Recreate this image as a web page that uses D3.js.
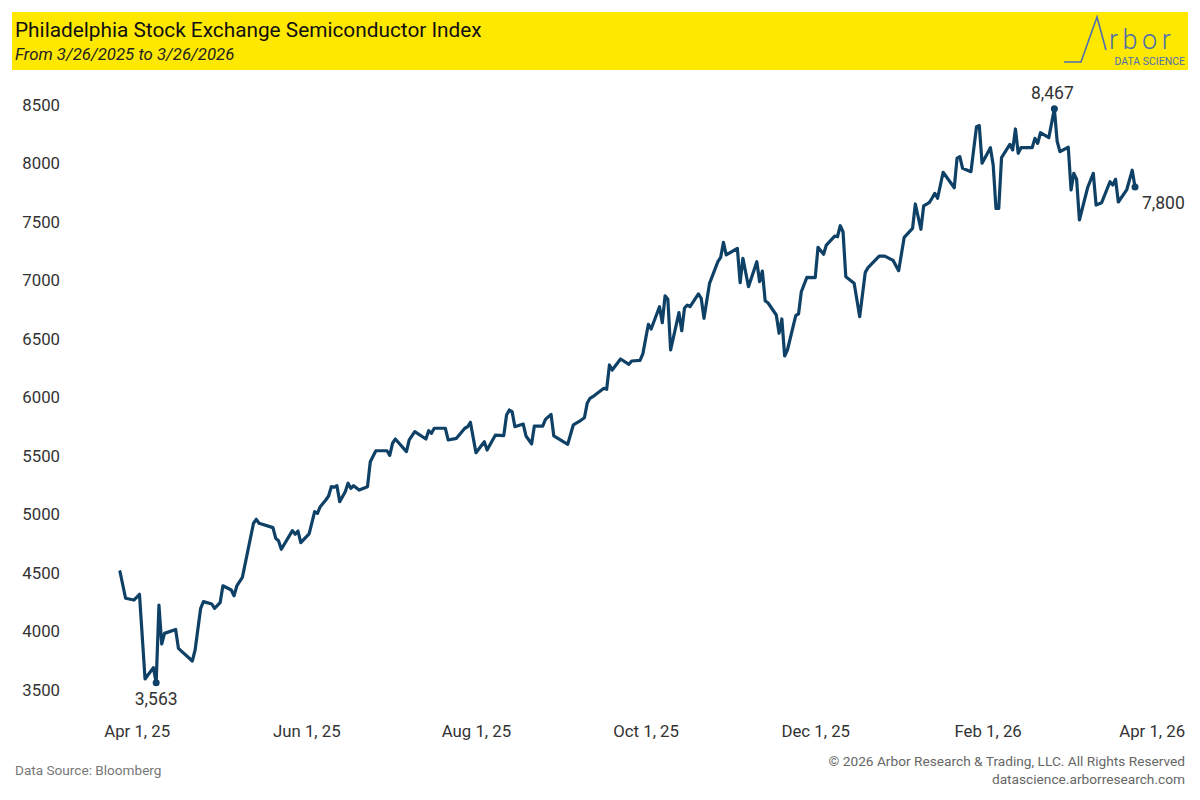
<!DOCTYPE html>
<html>
<head>
<meta charset="utf-8">
<script src="https://cdn.jsdelivr.net/npm/d3@7"></script>
<style>
  body { margin: 0; background: #fff; }
  svg { display: block; }
</style>
</head>
<body>
<svg id="chart" width="1200" height="800"></svg>
<script>
// SOX index
const dates = [
  '2025-03-26', '2025-03-28', '2025-03-31', '2025-04-02', '2025-04-04', '2025-04-07', '2025-04-08', '2025-04-09', '2025-04-10', '2025-04-11',
  '2025-04-15', '2025-04-16', '2025-04-21', '2025-04-22', '2025-04-24', '2025-04-25', '2025-04-28', '2025-04-29', '2025-05-01', '2025-05-02',
  '2025-05-05', '2025-05-06', '2025-05-07', '2025-05-09', '2025-05-13', '2025-05-14', '2025-05-15', '2025-05-20', '2025-05-21', '2025-05-22',
  '2025-05-23', '2025-05-27', '2025-05-28', '2025-05-29', '2025-05-30', '2025-06-02', '2025-06-04', '2025-06-05', '2025-06-06', '2025-06-08',
  '2025-06-09', '2025-06-10', '2025-06-11', '2025-06-12', '2025-06-13', '2025-06-15', '2025-06-16', '2025-06-17', '2025-06-18', '2025-06-20',
  '2025-06-23', '2025-06-24', '2025-06-26', '2025-06-30', '2025-07-01', '2025-07-02', '2025-07-03', '2025-07-07', '2025-07-08', '2025-07-10',
  '2025-07-14', '2025-07-15', '2025-07-16', '2025-07-17', '2025-07-21', '2025-07-22', '2025-07-25', '2025-07-28', '2025-07-29', '2025-07-30',
  '2025-08-01', '2025-08-04', '2025-08-05', '2025-08-08', '2025-08-11', '2025-08-12', '2025-08-13', '2025-08-14', '2025-08-15', '2025-08-18',
  '2025-08-19', '2025-08-21', '2025-08-22', '2025-08-25', '2025-08-26', '2025-08-28', '2025-08-29', '2025-09-03', '2025-09-05', '2025-09-07',
  '2025-09-09', '2025-09-10', '2025-09-11', '2025-09-12', '2025-09-16', '2025-09-17', '2025-09-18', '2025-09-19', '2025-09-22', '2025-09-25',
  '2025-09-26', '2025-09-29', '2025-09-30', '2025-10-02', '2025-10-03', '2025-10-06', '2025-10-07', '2025-10-08', '2025-10-09', '2025-10-10',
  '2025-10-13', '2025-10-14', '2025-10-15', '2025-10-16', '2025-10-17', '2025-10-20', '2025-10-21', '2025-10-22', '2025-10-24', '2025-10-27',
  '2025-10-28', '2025-10-29', '2025-10-30', '2025-11-03', '2025-11-04', '2025-11-05', '2025-11-07', '2025-11-10', '2025-11-11', '2025-11-12',
  '2025-11-13', '2025-11-14', '2025-11-17', '2025-11-18', '2025-11-19', '2025-11-20', '2025-11-21', '2025-11-24', '2025-11-25', '2025-11-26',
  '2025-11-28', '2025-12-01', '2025-12-02', '2025-12-04', '2025-12-05', '2025-12-08', '2025-12-09', '2025-12-10', '2025-12-11', '2025-12-12',
  '2025-12-15', '2025-12-17', '2025-12-19', '2025-12-20', '2025-12-24', '2025-12-26', '2025-12-29', '2025-12-31', '2026-01-02', '2026-01-05',
  '2026-01-06', '2026-01-08', '2026-01-09', '2026-01-11', '2026-01-12', '2026-01-13', '2026-01-14', '2026-01-16', '2026-01-20', '2026-01-21',
  '2026-01-22', '2026-01-23', '2026-01-26', '2026-01-28', '2026-01-29', '2026-01-30', '2026-02-02', '2026-02-03', '2026-02-04', '2026-02-05',
  '2026-02-06', '2026-02-09', '2026-02-10', '2026-02-11', '2026-02-12', '2026-02-13', '2026-02-17', '2026-02-18', '2026-02-19', '2026-02-20',
  '2026-02-23', '2026-02-25', '2026-02-26', '2026-02-27', '2026-03-02', '2026-03-03', '2026-03-04', '2026-03-05', '2026-03-06', '2026-03-09',
  '2026-03-11', '2026-03-12', '2026-03-14', '2026-03-17', '2026-03-18', '2026-03-19', '2026-03-20', '2026-03-23', '2026-03-25', '2026-03-26',
];

const values = [
  4511, 4284, 4269, 4318, 3594, 3691, 3563, 4226, 3893, 3984,
  4018, 3856, 3748, 3842, 4198, 4255, 4235, 4198, 4246, 4391,
  4355, 4306, 4389, 4463, 4925, 4959, 4925, 4888, 4796, 4776,
  4703, 4862, 4831, 4859, 4759, 4835, 5024, 5010, 5067, 5124,
  5158, 5238, 5233, 5246, 5110, 5195, 5267, 5224, 5246, 5209,
  5238, 5451, 5545, 5545, 5506, 5609, 5645, 5537, 5637, 5708,
  5645, 5716, 5694, 5737, 5737, 5637, 5651, 5737, 5750, 5788,
  5528, 5622, 5551, 5679, 5674, 5850, 5893, 5879, 5750, 5773,
  5671, 5603, 5756, 5756, 5813, 5856, 5671, 5600, 5765, 5793,
  5827, 5950, 5993, 6007, 6079, 6070, 6278, 6235, 6329, 6284,
  6312, 6318, 6372, 6626, 6585, 6776, 6639, 6868, 6842, 6406,
  6725, 6571, 6765, 6790, 6776, 6885, 6848, 6677, 6976, 7161,
  7198, 7326, 7218, 7275, 6981, 7190, 6947, 7161, 6990, 7081,
  6825, 6810, 6705, 6549, 6671, 6355, 6406, 6699, 6714, 6904,
  7027, 7024, 7284, 7224, 7303, 7380, 7374, 7468, 7417, 7032,
  6976, 6691, 7070, 7110, 7209, 7209, 7172, 7084, 7369, 7446,
  7654, 7438, 7637, 7665, 7703, 7745, 7703, 7925, 7793, 8044,
  8059, 7959, 7930, 8315, 8324, 8002, 8135, 7987, 7617, 7617,
  8050, 8164, 8116, 8295, 8087, 8135, 8135, 8215, 8172, 8263,
  8221, 8467, 8190, 8101, 8139, 7774, 7916, 7865, 7517, 7797,
  7916, 7645, 7665, 7844, 7816, 7865, 7671, 7774, 7943, 7800,
];

const yTicks = [3500, 4000, 4500, 5000, 5500, 6000, 6500, 7000, 7500, 8000, 8500];
const xTicks = ['2025-04-01', '2025-06-01', '2025-08-01', '2025-10-01', '2025-12-01', '2026-02-01', '2026-04-01'];

const title = 'Philadelphia Stock Exchange Semiconductor Index';
const subtitle = 'From 3/26/2025 to 3/26/2026';

const parse = d3.timeParse('%Y-%m-%d');
const data = dates.map((d, i) => ({ date: parse(d), value: values[i] }));

const svg = d3.select('#chart');
const font = 'Roboto, "Liberation Sans", sans-serif';
const lineColor = '#0f4166';

// header band
svg.append('rect')
    .attr('x', 12).attr('y', 12)
    .attr('width', 1176).attr('height', 58)
    .attr('fill', '#ffe800');

svg.append('text')
    .attr('x', 15).attr('y', 37)
    .style('font', `20.8px ${font}`)
    .attr('fill', '#111')
    .text(title);

svg.append('text')
    .attr('x', 15).attr('y', 60)
    .style('font', `italic 16.8px ${font}`)
    .attr('fill', '#222')
    .text(subtitle);

// logo
const logo = svg.append('g');
logo.append('path')
    .attr('d', 'M1064,62 L1081,62 L1097,17 L1106,50')
    .attr('fill', 'none')
    .attr('stroke', '#4f6fae')
    .attr('stroke-width', 1.6);
logo.append('text')
    .attr('x', 1109).attr('y', 49)
    .style('font', `300 27px ${font}`)
    .style('letter-spacing', '4.5px')
    .attr('fill', '#4f6fae')
    .text('rbor');
logo.append('text')
    .attr('x', 1185).attr('y', 65)
    .attr('text-anchor', 'end')
    .style('font', `10.5px ${font}`)
    .attr('fill', '#4f6fae')
    .text('DATA SCIENCE');

// scales
const x = d3.scaleTime()
    .domain([parse('2025-04-01'), parse('2026-04-01')])
    .range([136.7, 1151.7]);

const y = d3.scaleLinear()
    .domain([3500, 8500])
    .range([690, 105]);

const yAxis = svg.append('g')
    .attr('transform', 'translate(63,0)')
    .call(d3.axisLeft(y).tickValues(yTicks).tickSize(0).tickPadding(3).tickFormat(d3.format('d')));

const xAxis = svg.append('g')
    .attr('transform', 'translate(0,721)')
    .call(d3.axisBottom(x).tickValues(xTicks.map(parse)).tickSize(0).tickPadding(4)
        .tickFormat(d3.timeFormat('%b %-d, %y')));

[yAxis, xAxis].forEach((g) => {
    g.select('.domain').remove();
    g.selectAll('text')
        .style('font', `16.8px ${font}`)
        .attr('fill', '#333');
});

// line
const line = d3.line()
    .x(d => x(d.date))
    .y(d => y(d.value));

svg.append('path')
    .datum(data)
    .attr('d', line)
    .attr('fill', 'none')
    .attr('stroke', lineColor)
    .attr('stroke-width', 3.2)
    .attr('stroke-linejoin', 'round')
    .attr('stroke-linecap', 'round');

// min, max and last points
const minPt = data[d3.minIndex(data, d => d.value)];
const maxPt = data[d3.maxIndex(data, d => d.value)];
const lastPt = data[data.length - 1];
const fmt = d3.format(',');

svg.selectAll('circle.mark')
    .data([minPt, maxPt, lastPt])
    .join('circle')
    .attr('class', 'mark')
    .attr('cx', d => x(d.date))
    .attr('cy', d => y(d.value))
    .attr('r', 3.5)
    .attr('fill', lineColor);

const labels = [
    { pt: minPt, dx: 0, dy: 22, anchor: 'middle' },
    { pt: maxPt, dx: -2, dy: -10, anchor: 'middle' },
    { pt: lastPt, dx: 7, dy: 22, anchor: 'start' },
];

svg.selectAll('text.mark-label')
    .data(labels)
    .join('text')
    .attr('class', 'mark-label')
    .attr('x', d => x(d.pt.date) + d.dx)
    .attr('y', d => y(d.pt.value) + d.dy)
    .attr('text-anchor', d => d.anchor)
    .style('font', `17.5px ${font}`)
    .attr('fill', '#333')
    .text(d => fmt(d.pt.value));

// footer
svg.append('text')
    .attr('x', 15).attr('y', 775)
    .style('font', `13.6px ${font}`)
    .attr('fill', '#777')
    .text('Data Source: Bloomberg');

svg.append('text')
    .attr('x', 1185).attr('y', 766)
    .attr('text-anchor', 'end')
    .style('font', `13.7px ${font}`)
    .attr('fill', '#666')
    .text('© 2026 Arbor Research & Trading, LLC. All Rights Reserved');

svg.append('text')
    .attr('x', 1185).attr('y', 784)
    .attr('text-anchor', 'end')
    .style('font', `13.7px ${font}`)
    .attr('fill', '#666')
    .text('datascience.arborresearch.com');
</script>
</body>
</html>
